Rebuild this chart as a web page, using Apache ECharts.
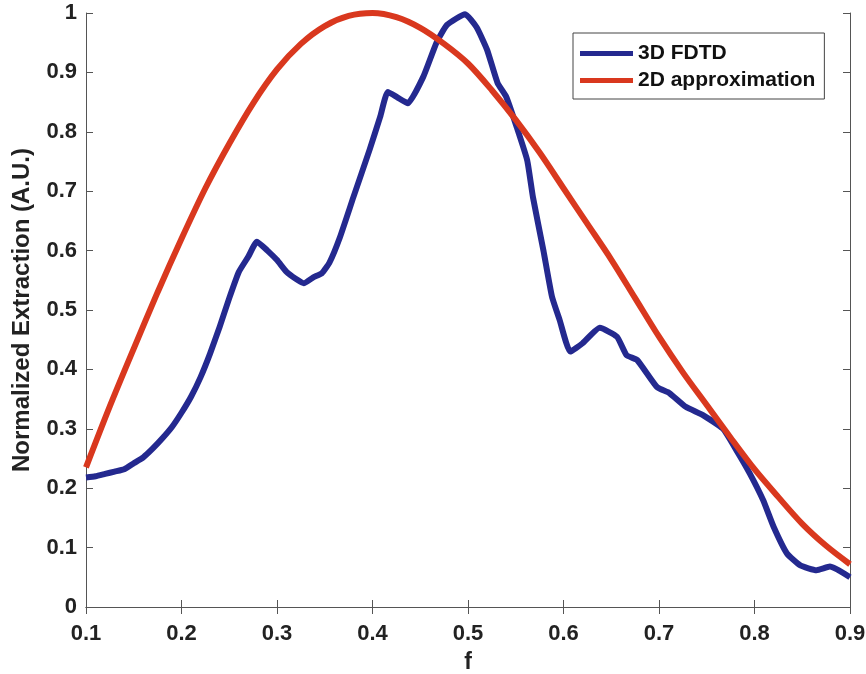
<!DOCTYPE html>
<html><head><meta charset="utf-8">
<script src="https://cdn.jsdelivr.net/npm/echarts@6/dist/echarts.min.js"></script>
<style>html,body{margin:0;padding:0;background:#fff}#c{width:866px;height:674px}</style>
</head><body><div id="c"></div>
<script>
// 3D FDTD curve (f, value)
var fdtdF = [0.100,0.110,0.120,0.130,0.140,0.150,0.160,0.170,0.180,0.190,0.200,0.210,0.220,0.230,0.240,0.250,0.260,0.270,0.279,0.290,0.300,0.310,0.320,0.328,0.338,0.347,0.355,0.366,0.380,0.397,0.408,0.416,0.426,0.437,0.453,0.467,0.478,0.497,0.509,0.520,0.531,0.540,0.551,0.562,0.568,0.579,0.588,0.596,0.607,0.620,0.638,0.656,0.666,0.677,0.698,0.711,0.728,0.746,0.767,0.781,0.795,0.809,0.820,0.834,0.848,0.865,0.879,0.900];
var fdtdV = [0.218,0.220,0.224,0.228,0.232,0.242,0.252,0.267,0.284,0.303,0.327,0.354,0.387,0.427,0.472,0.520,0.564,0.590,0.615,0.600,0.584,0.564,0.552,0.545,0.555,0.562,0.580,0.623,0.690,0.770,0.825,0.867,0.858,0.848,0.892,0.950,0.980,0.998,0.976,0.938,0.882,0.859,0.808,0.752,0.690,0.600,0.522,0.483,0.430,0.444,0.470,0.455,0.424,0.416,0.370,0.360,0.337,0.323,0.300,0.264,0.225,0.180,0.135,0.090,0.070,0.062,0.068,0.050];
// 2D approximation curve
var approxF = [0.100,0.125,0.150,0.175,0.200,0.225,0.250,0.275,0.300,0.325,0.350,0.375,0.400,0.425,0.450,0.475,0.500,0.525,0.550,0.575,0.600,0.625,0.650,0.675,0.700,0.725,0.750,0.775,0.800,0.825,0.850,0.875,0.900];
var approxV = [0.235,0.338,0.435,0.530,0.620,0.705,0.780,0.848,0.905,0.948,0.978,0.995,1.000,0.993,0.975,0.948,0.915,0.870,0.820,0.765,0.705,0.645,0.585,0.520,0.455,0.395,0.340,0.285,0.232,0.185,0.140,0.103,0.072];
var xTicks = [0.1,0.2,0.3,0.4,0.5,0.6,0.7,0.8,0.9];
var yTicks = [0,0.1,0.2,0.3,0.4,0.5,0.6,0.7,0.8,0.9,1];
var seriesNames = ['3D FDTD','2D approximation'];

function pairs(a,b){return a.map(function(v,i){return [v,b[i]];});}
var font = 'Liberation Sans, Arial, sans-serif';
var axCol = '#555';
function lbl(v){return String(v);}
var chart = echarts.init(document.getElementById('c'));
chart.setOption({
  animation:false,
  backgroundColor:'#fff',
  grid:{left:86,right:16,top:13,bottom:67,containLabel:false,outerBoundsMode:'none'},
  legend:{
    data:seriesNames,
    orient:'vertical', left:573, top:33,
    padding:[10,9,8,7], itemGap:6,
    itemWidth:53, itemHeight:5, icon:'rect',
    borderColor:'#444', borderWidth:1, backgroundColor:'#fff',
    textStyle:{fontFamily:font,fontWeight:'bold',fontSize:21,color:'#111'}
  },
  xAxis:[{
    type:'value', min:0.1, max:0.9, interval:0.1, position:'bottom',
    name:'f', nameLocation:'middle', nameGap:44,
    nameTextStyle:{fontFamily:font,fontWeight:'bold',fontSize:23,color:'#222'},
    axisLine:{show:true,lineStyle:{color:axCol,width:1}},
    axisTick:{show:true,inside:true,length:7,lineStyle:{color:axCol}},
    axisLabel:{fontFamily:font,fontWeight:'bold',fontSize:22,color:'#222',margin:16,formatter:function(v){return lbl(+v.toFixed(1));}},
    splitLine:{show:false}
  },{
    type:'value', min:0.1, max:0.9, interval:0.1, position:'top',
    axisLine:{show:true,lineStyle:{color:axCol,width:1}},
    axisTick:{show:true,inside:true,length:7,lineStyle:{color:axCol}},
    axisLabel:{show:false}, splitLine:{show:false}
  }],
  yAxis:[{
    type:'value', min:0, max:1, interval:0.1, position:'left',
    name:'Normalized Extraction (A.U.)', nameLocation:'middle', nameGap:52,
    nameTextStyle:{fontFamily:font,fontWeight:'bold',fontSize:24,color:'#222'},
    axisLine:{show:true,lineStyle:{color:axCol,width:1}},
    axisTick:{show:true,inside:true,length:7,lineStyle:{color:axCol}},
    axisLabel:{fontFamily:font,fontWeight:'bold',fontSize:22,color:'#222',margin:9,formatter:function(v){return lbl(+v.toFixed(1));}},
    splitLine:{show:false}
  },{
    type:'value', min:0, max:1, interval:0.1, position:'right',
    axisLine:{show:true,lineStyle:{color:axCol,width:1}},
    axisTick:{show:true,inside:true,length:7,lineStyle:{color:axCol}},
    axisLabel:{show:false}, splitLine:{show:false}
  }],
  series:[{
    name:seriesNames[0], type:'line', data:pairs(fdtdF,fdtdV),
    showSymbol:false, smooth:0.15, color:'#24298f',
    lineStyle:{width:6,color:'#24298f',join:'round'}
  },{
    name:seriesNames[1], type:'line', data:pairs(approxF,approxV),
    showSymbol:false, smooth:0.3, color:'#d9381e',
    lineStyle:{width:6,color:'#d9381e'}
  }]
});
</script></body></html>
